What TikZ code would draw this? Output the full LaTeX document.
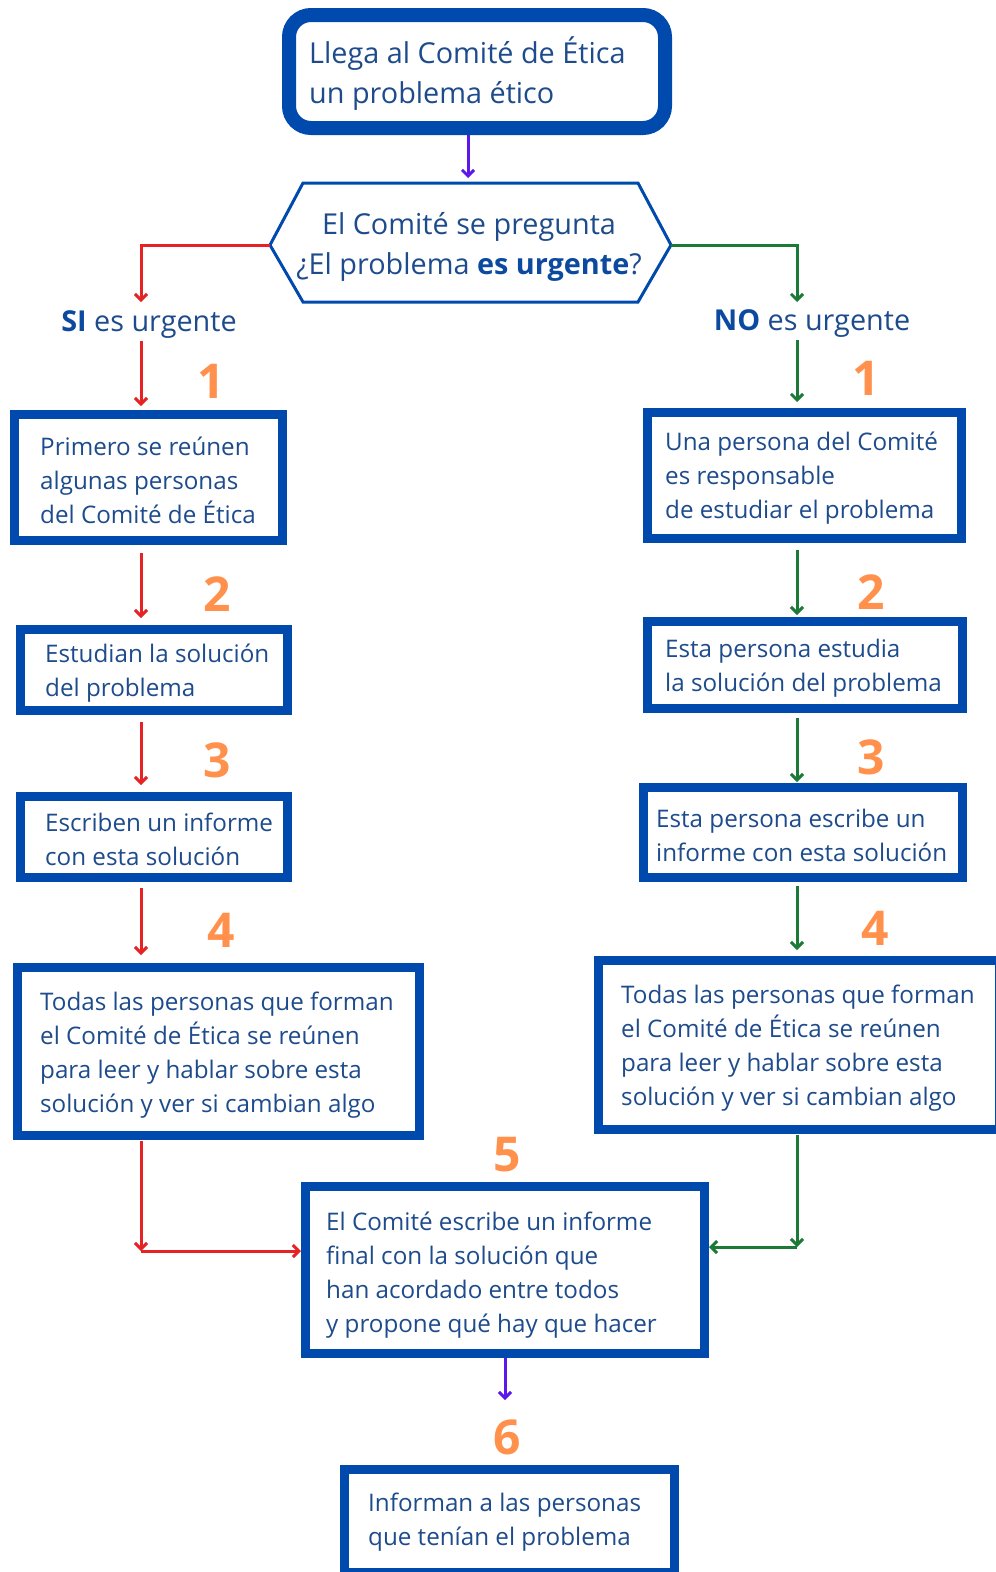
\documentclass[tikz,border=0pt]{standalone}
\usepackage{fontspec}
\setmainfont{Open Sans}
\usetikzlibrary{arrows.meta}
\definecolor{bordblue}{HTML}{004AAD}
\definecolor{txtblue}{HTML}{1D4B8C}
\definecolor{boldblue}{HTML}{0B4A9E}
\definecolor{numorange}{HTML}{FF914D}
\definecolor{arrred}{HTML}{E62225}
\definecolor{arrgreen}{HTML}{1B7A36}
\definecolor{arrpurple}{HTML}{5E17EB}
\tikzset{
  box/.style={draw=bordblue, line width=9pt, fill=white, inner sep=0pt},
  txt/.style={text=txtblue, font=\fontsize{24.2}{34}\selectfont, align=left, inner sep=0pt, anchor=west},
  bigtxt/.style={text=txtblue, font=\fontsize{28.8}{40}\selectfont, inner sep=0pt},
  num/.style={text=numorange, font=\bfseries\fontsize{48}{48}\selectfont, inner sep=0pt},
  conn/.style={line width=3pt, -{Straight Barb[length=6pt,width=12pt,line width=3pt]}},
  redarr/.style={conn, draw=arrred},
  greenarr/.style={conn, draw=arrgreen},
  purplearr/.style={conn, draw=arrpurple},
}
\begin{document}
\begin{tikzpicture}[x=1pt,y=-1pt]
\fill[white] (0,0) rectangle (996,1572);
\useasboundingbox (0,0) rectangle (996,1572);

% top box
\node[box, line width=14pt, rounded corners=22pt, minimum width=376pt, minimum height=113pt] (top) at (477,71.5) {};
\node[bigtxt, align=left, anchor=west] (toptxt) at (309,74) {Llega al Comité de Ética\\un problema ético};

% hexagon
\coordinate (hexL) at (270,245);
\coordinate (hexTL) at (303,183);
\coordinate (hexTR) at (638,183);
\coordinate (hexR) at (671,245);
\coordinate (hexBR) at (638,302);
\coordinate (hexBL) at (303,302);
\draw[bordblue, line width=3pt, fill=white, line join=miter] (hexL) -- (hexTL) -- (hexTR) -- (hexR) -- (hexBR) -- (hexBL) -- cycle;
\node[bigtxt, align=center] (hextxt) at (469,247) {El Comité se pregunta\\¿El problema \textcolor{boldblue}{\textbf{es urgente}}?};

\coordinate (pa) at (468,178);
\draw[purplearr] (pa |- top.south) -- (pa);

% branch labels
\node[bigtxt] (si) at (149,325) {\textcolor{boldblue}{\textbf{SI}} es urgente};
\node[bigtxt] (no) at (812,324) {\textcolor{boldblue}{\textbf{NO}} es urgente};

\coordinate (rt) at (141,302);
\coordinate (gt) at (797,302);
\draw[redarr] (hexL) -| (rt);
\draw[greenarr] (hexR) -| (gt);

% left column
\node[box, minimum width=268pt, minimum height=126pt] (l1) at (148.5,477.5) {};
\node[txt] (l1t) at (40,480) {Primero se reúnen\\algunas personas\\del Comité de Ética};
\node[box, minimum width=267pt, minimum height=81pt] (l2) at (154,670) {};
\node[txt] (l2t) at (45,673) {Estudian la solución\\del problema};
\node[box, minimum width=267pt, minimum height=81pt] (l3) at (154,837) {};
\node[txt] (l3t) at (45,839) {Escriben un informe\\con esta solución};
\node[box, minimum width=402pt, minimum height=168pt] (l4) at (218.5,1051.5) {};
\node[txt] (l4t) at (40,1055) {Todas las personas que forman\\el Comité de Ética se reúnen\\para leer y hablar sobre esta\\solución y ver si cambian algo};

% right column
\node[box, minimum width=314pt, minimum height=126pt] (r1) at (804.5,475.5) {};
\node[txt] (r1t) at (665,478) {Una persona del Comité\\es responsable\\de estudiar el problema};
\node[box, minimum width=315pt, minimum height=87pt] (r2) at (805,665) {};
\node[txt] (r2t) at (665,668) {Esta persona estudia\\la solución del problema};
\node[box, minimum width=319pt, minimum height=90pt] (r3) at (803,832.5) {};
\node[txt] (r3t) at (656,835) {Esta persona escribe un\\informe con esta solución};
\node[box, minimum width=401pt, minimum height=169pt] (r4) at (799,1045) {};
\node[txt] (r4t) at (621,1048) {Todas las personas que forman\\el Comité de Ética se reúnen\\para leer y hablar sobre esta\\solución y ver si cambian algo};

% final boxes
\node[box, minimum width=399pt, minimum height=167pt] (b5) at (505,1270) {};
\node[txt] (b5t) at (326,1275) {El Comité escribe un informe\\final con la solución que\\han acordado entre todos\\y propone qué hay que hacer};
\node[box, minimum width=330pt, minimum height=103pt] (b6) at (509.5,1521) {};
\node[txt] (b6t) at (368,1522) {Informan a las personas\\que tenían el problema};

% numbers
\node[num] (n1l) at (211,381) {1};
\node[num] (n2l) at (217,594) {2};
\node[num] (n3l) at (217,760) {3};
\node[num] (n4l) at (221,930) {4};
\node[num] (n1r) at (866,378) {1};
\node[num] (n2r) at (871,592) {2};
\node[num] (n3r) at (871,757) {3};
\node[num] (n4r) at (875,928) {4};
\node[num] (n5) at (507,1155) {5};
\node[num] (n6) at (507,1437) {6};

% left arrows
\draw[redarr, shorten <=2pt, shorten >=4pt] (si.south -| rt) -- (l1.north -| rt);
\draw[redarr, shorten <=8pt, shorten >=7pt] (l1.south -| rt) -- (l2.north -| rt);
\draw[redarr, shorten <=7pt, shorten >=7pt] (l2.south -| rt) -- (l3.north -| rt);
\draw[redarr, shorten <=6pt, shorten >=8pt] (l3.south -| rt) -- (l4.north -| rt);
\coordinate (rcorner) at (141,1251);
\draw[redarr, shorten <=1pt] (l4.south -| rt) -- (rcorner);
\draw[redarr] (rcorner) -- (b5.west |- rcorner);

% right arrows
\draw[greenarr, shorten <=2pt, shorten >=6pt] (no.south -| gt) -- (r1.north -| gt);
\draw[greenarr, shorten <=7pt, shorten >=2pt] (r1.south -| gt) -- (r2.north -| gt);
\draw[greenarr, shorten <=5pt, shorten >=1pt] (r2.south -| gt) -- (r3.north -| gt);
\draw[greenarr, shorten <=4pt, shorten >=6pt] (r3.south -| gt) -- (r4.north -| gt);
\coordinate (gcorner) at (797,1247);
\draw[greenarr, shorten <=1pt] (r4.south -| gt) -- (gcorner);
\draw[greenarr] (gcorner) -- (b5.east |- gcorner);

% purple bottom
\coordinate (pb) at (505,1400);
\draw[purplearr] (b5.south -| pb) -- (pb);
\end{tikzpicture}
\end{document}
